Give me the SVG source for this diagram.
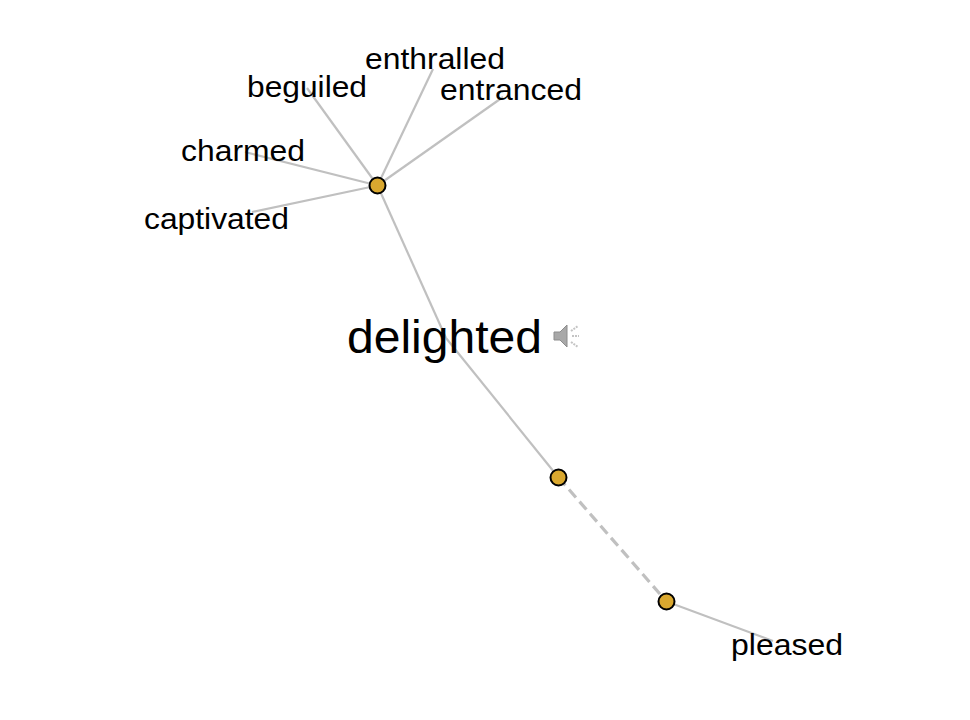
<svg xmlns="http://www.w3.org/2000/svg" width="970" height="720" viewBox="0 0 970 720">
<style>
text{font-family:"Liberation Sans",Arial,sans-serif;fill:#000}
.w{font-size:29.5px}
.h{font-size:46.5px}
.l{stroke:#c0c0c0;stroke-width:2.2;fill:none}
.d{stroke:#c0c0c0;stroke-width:3.2;stroke-dasharray:10.5 5.5;fill:none}
.n{fill:#daa82f;stroke:#000;stroke-width:2}
</style>
<rect width="970" height="720" fill="#fff"/>
<g id="connectors">
<line class="l" x1="377.5" y1="185.5" x2="307" y2="88"/>
<line class="l" x1="377.5" y1="185.5" x2="433" y2="69"/>
<line class="l" x1="377.5" y1="185.5" x2="503" y2="97"/>
<line class="l" x1="377.5" y1="185.5" x2="245" y2="152"/>
<line class="l" x1="377.5" y1="185.5" x2="252" y2="212"/>
<line class="l" x1="377.5" y1="185.5" x2="446" y2="338"/>
<line class="l" x1="446" y1="338" x2="558.5" y2="477.5"/>
<line class="d" x1="558.5" y1="477.5" x2="666.5" y2="601.5"/>
<line class="l" x1="666.5" y1="601.5" x2="773" y2="641"/>
</g>
<g id="node-beguiled"><text class="w" x="247" y="97" textLength="120" lengthAdjust="spacingAndGlyphs">beguiled</text></g>
<g id="node-enthralled"><text class="w" x="365" y="69" textLength="140" lengthAdjust="spacingAndGlyphs">enthralled</text></g>
<g id="node-entranced"><text class="w" x="440" y="100" textLength="142" lengthAdjust="spacingAndGlyphs">entranced</text></g>
<g id="node-charmed"><text class="w" x="181" y="161" textLength="124" lengthAdjust="spacingAndGlyphs">charmed</text></g>
<g id="node-captivated"><text class="w" x="144" y="229" textLength="145" lengthAdjust="spacingAndGlyphs">captivated</text></g>
<g id="node-delighted"><text class="h" x="347" y="353" textLength="195" lengthAdjust="spacingAndGlyphs">delighted</text></g>
<g id="node-pleased"><text class="w" x="731" y="655" textLength="112" lengthAdjust="spacingAndGlyphs">pleased</text></g>
<g id="node-sense-1"><circle class="n" cx="377.5" cy="185.5" r="8"/></g>
<g id="node-sense-2"><circle class="n" cx="558.5" cy="477.5" r="8"/></g>
<g id="node-sense-3"><circle class="n" cx="666.5" cy="601.5" r="8"/></g>
<g id="speaker">
<path d="M554 332h6l7-7v22l-7-7h-6z" fill="#a8a8a8" stroke="#8c8c8c" stroke-width="1"/>
<path d="M571 331l7-5M572 336h7M571 342l7 5" stroke="#c4c4c4" stroke-width="2" stroke-dasharray="2 1" fill="none"/>
</g>
</svg>
